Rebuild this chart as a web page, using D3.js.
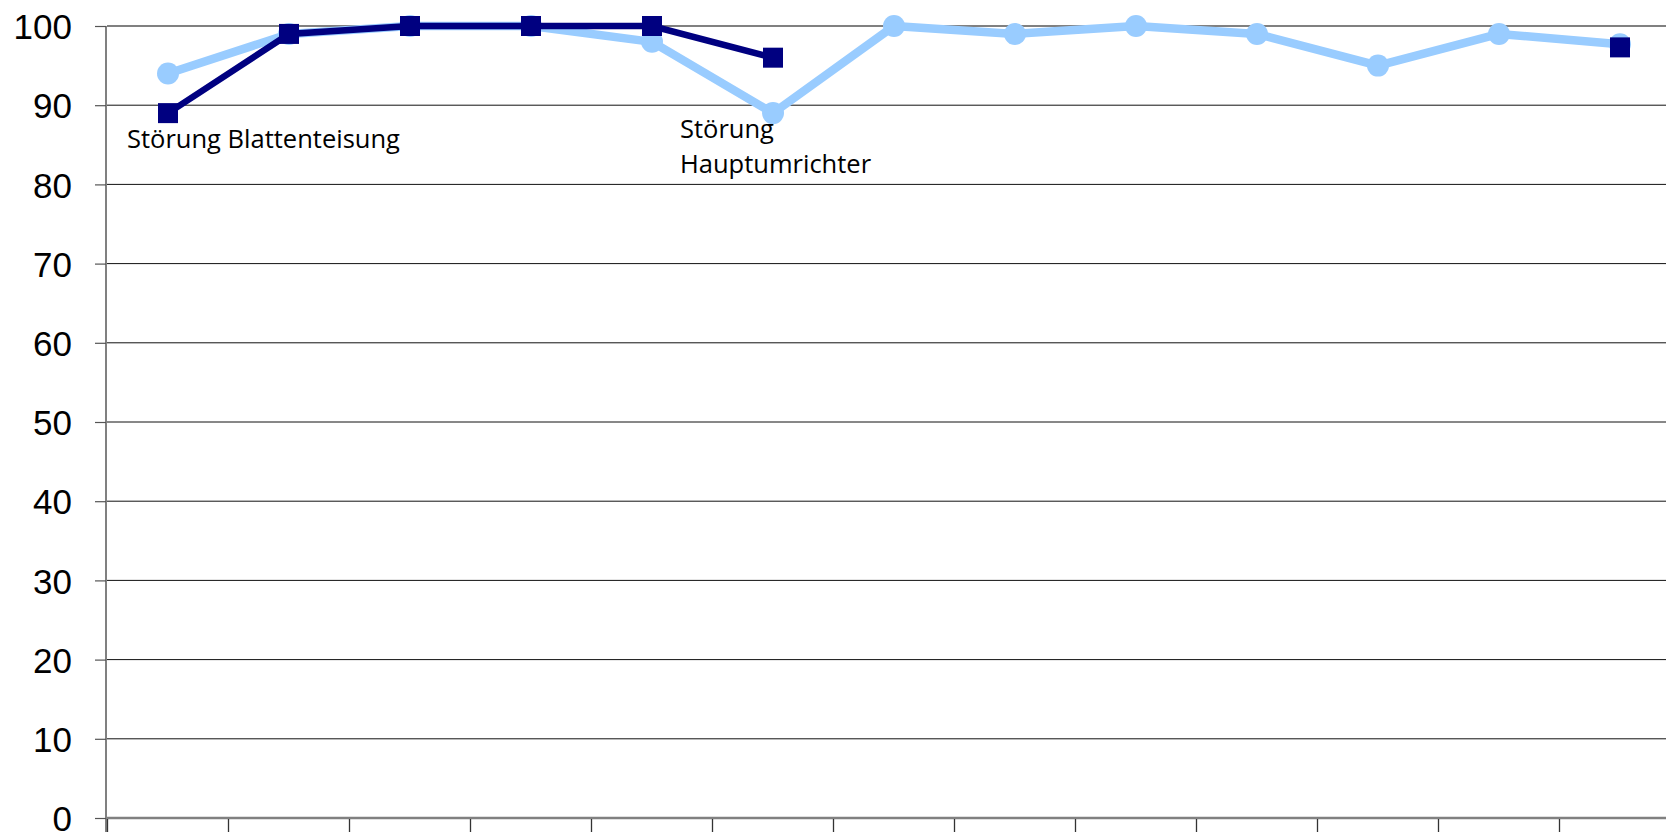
<!DOCTYPE html>
<html><head><meta charset="utf-8">
<script src="https://cdn.jsdelivr.net/npm/d3@7"></script>
<style>html,body{margin:0;padding:0;background:#fff;overflow:hidden}</style>
</head><body>
<svg id="c" width="1666" height="832"></svg>
<script>
const categories = ["Jan","Feb","Mär","Apr","Mai","Jun","Jul","Aug","Sep","Okt","Nov","Dez","Ø"];
const seriesLight = [94, 99, 100, 100, 98, 89, 100, 99, 100, 99, 95, 99, 97.7];
const seriesDark = [89, 99, 100, 100, 100, 96, null, null, null, null, null, null, 97.3];
const yTicks = [0,10,20,30,40,50,60,70,80,90,100];
const annotations = [
  {cat: 0, lines: ["Störung Blattenteisung"]},
  {cat: 5, lines: ["Störung", "Hauptumrichter"]}
];

const svg = d3.select("#c");
const x = d3.scaleBand().domain(categories).range([107.5, 107.5 + 121*13]).paddingInner(0).paddingOuter(0);
const y = d3.scaleLinear().domain([0,100]).range([818, 26]);
const cx = c => x(c) + x.bandwidth()/2;

// gridlines
svg.append("g").selectAll("line").data(yTicks.filter(t => t > 0)).join("line")
  .attr("x1", 107).attr("x2", 1666)
  .attr("y1", d => y(d)).attr("y2", d => y(d))
  .attr("stroke", d => d === 100 ? "#808080" : "#111").attr("stroke-width", d => d === 100 ? 2 : 1);

// y axis
const yAxis = d3.axisLeft(y).tickValues(yTicks).tickSize(11).tickPadding(23).tickFormat(d3.format("d"));
const gy = svg.append("g").attr("transform", "translate(106,0)").call(yAxis);
gy.select(".domain").attr("stroke", "#808080").attr("stroke-width", 2).attr("d", "M0,26V832");
gy.selectAll(".tick line").attr("stroke", "#555").attr("stroke-width", 1.2);
gy.selectAll(".tick text").attr("font-family", "Liberation Sans, Arial, sans-serif").attr("font-size", 35).attr("fill", "#000").attr("dy", "0.36em");

// x axis (category labels lie below the visible area)
const boundaries = categories.map(c => x(c)).concat([x(categories[12]) + x.bandwidth()]);
svg.append("line").attr("x1", 106).attr("x2", 1666).attr("y1", 818).attr("y2", 818).attr("stroke", "#808080").attr("stroke-width", 2.5);
svg.append("g").selectAll("line").data(boundaries).join("line")
  .attr("x1", d => d).attr("x2", d => d).attr("y1", 819).attr("y2", 832)
  .attr("stroke", "#333").attr("stroke-width", 1.3);

const lineGen = d3.line().defined(d => d.v != null).x(d => cx(d.c)).y(d => y(d.v));
const lightData = categories.map((c,i) => ({c, v: seriesLight[i]}));
const darkData = categories.map((c,i) => ({c, v: seriesDark[i]}));

// light series
svg.append("path").datum(lightData).attr("d", lineGen).attr("fill", "none")
  .attr("stroke", "#99CCFF").attr("stroke-width", 8.5).attr("stroke-linejoin", "round");
svg.append("g").selectAll("circle").data(lightData.filter(d => d.v != null)).join("circle")
  .attr("cx", d => cx(d.c)).attr("cy", d => y(d.v)).attr("r", 11).attr("fill", "#99CCFF");

// dark series
svg.append("path").datum(darkData).attr("d", lineGen).attr("fill", "none")
  .attr("stroke", "#000080").attr("stroke-width", 6.5).attr("stroke-linejoin", "miter");
svg.append("g").selectAll("rect").data(darkData.filter(d => d.v != null)).join("rect")
  .attr("x", d => cx(d.c) - 10).attr("y", d => y(d.v) - 10).attr("width", 20).attr("height", 20).attr("fill", "#000080");

// annotations
const annPos = [{dx: -41, y0: 148}, {dx: -93, y0: 138}];
annotations.forEach((a, i) => {
  const t = svg.append("text").attr("font-family", "Open Sans, sans-serif").attr("font-size", 25.5).attr("fill", "#000");
  a.lines.forEach((l, j) => {
    t.append("tspan").attr("x", cx(categories[a.cat]) + annPos[i].dx).attr("y", annPos[i].y0 + j*35).text(l);
  });
});
</script>
</body></html>
